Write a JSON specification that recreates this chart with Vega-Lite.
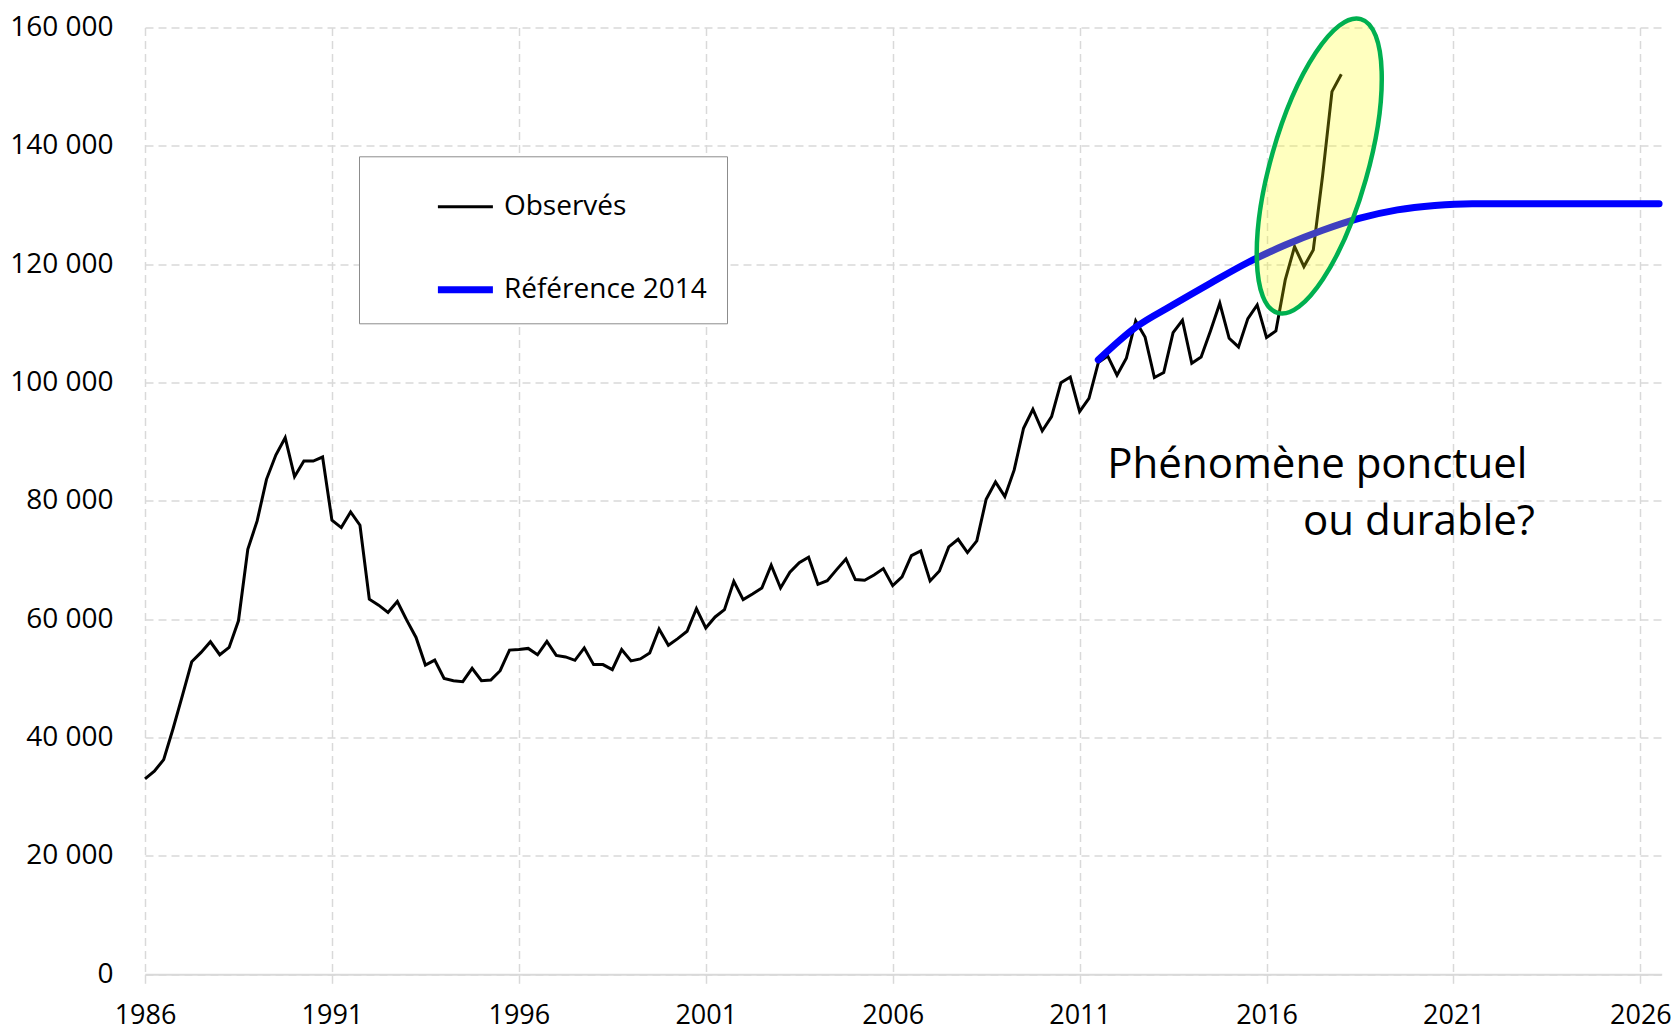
{
  "$schema": "https://vega.github.io/schema/vega-lite/v6.json",
  "width": 1516.7,
  "height": 946.7,
  "autosize": {"type": "none"},
  "padding": {"left": 145, "top": 27.6, "right": 11.3, "bottom": 55.7},
  "background": "#FFFFFF",
  "config": {
    "view": {"stroke": null},
    "locale": {"number": {"decimal": ",", "thousands": " ", "grouping": [3], "currency": ["", " €"]}},
    "axis": {
      "labelFont": "Open Sans",
      "labelFontSize": 27,
      "labelColor": "#000000",
      "gridColor": "#D9D9D9",
      "gridDash": [8, 5],
      "gridWidth": 1.5,
      "title": null
    }
  },
  "datasets": {
    "series": [
      {"t": 1986.0, "value": 33025, "serie": "Observés"},
      {"t": 1986.25, "value": 34317, "serie": "Observés"},
      {"t": 1986.5, "value": 36286, "serie": "Observés"},
      {"t": 1986.75, "value": 41500, "serie": "Observés"},
      {"t": 1987.0, "value": 47100, "serie": "Observés"},
      {"t": 1987.25, "value": 52826, "serie": "Observés"},
      {"t": 1987.5, "value": 54401, "serie": "Observés"},
      {"t": 1987.75, "value": 56201, "serie": "Observés"},
      {"t": 1988.0, "value": 54007, "serie": "Observés"},
      {"t": 1988.25, "value": 55245, "serie": "Observés"},
      {"t": 1988.5, "value": 59746, "serie": "Observés"},
      {"t": 1988.75, "value": 71842, "serie": "Observés"},
      {"t": 1989.0, "value": 76624, "serie": "Observés"},
      {"t": 1989.25, "value": 83657, "serie": "Observés"},
      {"t": 1989.5, "value": 87764, "serie": "Observés"},
      {"t": 1989.75, "value": 90689, "serie": "Observés"},
      {"t": 1990.0, "value": 84107, "serie": "Observés"},
      {"t": 1990.25, "value": 86751, "serie": "Observés"},
      {"t": 1990.5, "value": 86751, "serie": "Observés"},
      {"t": 1990.75, "value": 87426, "serie": "Observés"},
      {"t": 1991.0, "value": 76737, "serie": "Observés"},
      {"t": 1991.25, "value": 75499, "serie": "Observés"},
      {"t": 1991.5, "value": 78143, "serie": "Observés"},
      {"t": 1991.75, "value": 75893, "serie": "Observés"},
      {"t": 1992.0, "value": 63403, "serie": "Observés"},
      {"t": 1992.25, "value": 62391, "serie": "Observés"},
      {"t": 1992.5, "value": 61153, "serie": "Observés"},
      {"t": 1992.75, "value": 63009, "serie": "Observés"},
      {"t": 1993.0, "value": 59859, "serie": "Observés"},
      {"t": 1993.25, "value": 56933, "serie": "Observés"},
      {"t": 1993.5, "value": 52264, "serie": "Observés"},
      {"t": 1993.75, "value": 53108, "serie": "Observés"},
      {"t": 1994.0, "value": 50014, "serie": "Observés"},
      {"t": 1994.25, "value": 49620, "serie": "Observés"},
      {"t": 1994.5, "value": 49451, "serie": "Observés"},
      {"t": 1994.75, "value": 51701, "serie": "Observés"},
      {"t": 1995.0, "value": 49620, "serie": "Observés"},
      {"t": 1995.25, "value": 49733, "serie": "Observés"},
      {"t": 1995.5, "value": 51307, "serie": "Observés"},
      {"t": 1995.75, "value": 54796, "serie": "Observés"},
      {"t": 1996.0, "value": 54908, "serie": "Observés"},
      {"t": 1996.25, "value": 55077, "serie": "Observés"},
      {"t": 1996.5, "value": 54008, "serie": "Observés"},
      {"t": 1996.75, "value": 56258, "serie": "Observés"},
      {"t": 1997.0, "value": 53900, "serie": "Observés"},
      {"t": 1997.25, "value": 53634, "serie": "Observés"},
      {"t": 1997.5, "value": 53070, "serie": "Observés"},
      {"t": 1997.75, "value": 55155, "serie": "Observés"},
      {"t": 1998.0, "value": 52338, "serie": "Observés"},
      {"t": 1998.25, "value": 52338, "serie": "Observés"},
      {"t": 1998.5, "value": 51493, "serie": "Observés"},
      {"t": 1998.75, "value": 54873, "serie": "Observés"},
      {"t": 1999.0, "value": 52958, "serie": "Observés"},
      {"t": 1999.25, "value": 53296, "serie": "Observés"},
      {"t": 1999.5, "value": 54310, "serie": "Observés"},
      {"t": 1999.75, "value": 58366, "serie": "Observés"},
      {"t": 2000.0, "value": 55606, "serie": "Observés"},
      {"t": 2000.25, "value": 56732, "serie": "Observés"},
      {"t": 2000.5, "value": 57972, "serie": "Observés"},
      {"t": 2000.75, "value": 61803, "serie": "Observés"},
      {"t": 2001.0, "value": 58535, "serie": "Observés"},
      {"t": 2001.25, "value": 60394, "serie": "Observés"},
      {"t": 2001.5, "value": 61634, "serie": "Observés"},
      {"t": 2001.75, "value": 66423, "serie": "Observés"},
      {"t": 2002.0, "value": 63324, "serie": "Observés"},
      {"t": 2002.25, "value": 64282, "serie": "Observés"},
      {"t": 2002.5, "value": 65296, "serie": "Observés"},
      {"t": 2002.75, "value": 69127, "serie": "Observés"},
      {"t": 2003.0, "value": 65296, "serie": "Observés"},
      {"t": 2003.25, "value": 67944, "serie": "Observés"},
      {"t": 2003.5, "value": 69578, "serie": "Observés"},
      {"t": 2003.75, "value": 70479, "serie": "Observés"},
      {"t": 2004.0, "value": 65916, "serie": "Observés"},
      {"t": 2004.25, "value": 66535, "serie": "Observés"},
      {"t": 2004.5, "value": 68394, "serie": "Observés"},
      {"t": 2004.75, "value": 70197, "serie": "Observés"},
      {"t": 2005.0, "value": 66704, "serie": "Observés"},
      {"t": 2005.25, "value": 66592, "serie": "Observés"},
      {"t": 2005.5, "value": 67493, "serie": "Observés"},
      {"t": 2005.75, "value": 68564, "serie": "Observés"},
      {"t": 2006.0, "value": 65690, "serie": "Observés"},
      {"t": 2006.25, "value": 67155, "serie": "Observés"},
      {"t": 2006.5, "value": 70761, "serie": "Observés"},
      {"t": 2006.75, "value": 71550, "serie": "Observés"},
      {"t": 2007.0, "value": 66479, "serie": "Observés"},
      {"t": 2007.25, "value": 68169, "serie": "Observés"},
      {"t": 2007.5, "value": 72226, "serie": "Observés"},
      {"t": 2007.75, "value": 73522, "serie": "Observés"},
      {"t": 2008.0, "value": 71268, "serie": "Observés"},
      {"t": 2008.25, "value": 73240, "serie": "Observés"},
      {"t": 2008.5, "value": 80281, "serie": "Observés"},
      {"t": 2008.75, "value": 83211, "serie": "Observés"},
      {"t": 2009.0, "value": 80732, "serie": "Observés"},
      {"t": 2009.25, "value": 85239, "serie": "Observés"},
      {"t": 2009.5, "value": 92282, "serie": "Observés"},
      {"t": 2009.75, "value": 95493, "serie": "Observés"},
      {"t": 2010.0, "value": 91831, "serie": "Observés"},
      {"t": 2010.25, "value": 94253, "serie": "Observés"},
      {"t": 2010.5, "value": 100000, "serie": "Observés"},
      {"t": 2010.75, "value": 100958, "serie": "Observés"},
      {"t": 2011.0, "value": 95098, "serie": "Observés"},
      {"t": 2011.25, "value": 97352, "serie": "Observés"},
      {"t": 2011.5, "value": 103380, "serie": "Observés"},
      {"t": 2011.75, "value": 104507, "serie": "Observés"},
      {"t": 2012.0, "value": 101240, "serie": "Observés"},
      {"t": 2012.25, "value": 104113, "serie": "Observés"},
      {"t": 2012.5, "value": 110423, "serie": "Observés"},
      {"t": 2012.75, "value": 107718, "serie": "Observés"},
      {"t": 2013.0, "value": 100845, "serie": "Observés"},
      {"t": 2013.25, "value": 101690, "serie": "Observés"},
      {"t": 2013.5, "value": 108451, "serie": "Observés"},
      {"t": 2013.75, "value": 110535, "serie": "Observés"},
      {"t": 2014.0, "value": 103268, "serie": "Observés"},
      {"t": 2014.25, "value": 104338, "serie": "Observés"},
      {"t": 2014.5, "value": 108733, "serie": "Observés"},
      {"t": 2014.75, "value": 113409, "serie": "Observés"},
      {"t": 2015.0, "value": 107493, "serie": "Observés"},
      {"t": 2015.25, "value": 106028, "serie": "Observés"},
      {"t": 2015.5, "value": 110817, "serie": "Observés"},
      {"t": 2015.75, "value": 113127, "serie": "Observés"},
      {"t": 2016.0, "value": 107606, "serie": "Observés"},
      {"t": 2016.25, "value": 108733, "serie": "Observés"},
      {"t": 2016.5, "value": 117352, "serie": "Observés"},
      {"t": 2016.75, "value": 122986, "serie": "Observés"},
      {"t": 2017.0, "value": 119606, "serie": "Observés"},
      {"t": 2017.25, "value": 122423, "serie": "Observés"},
      {"t": 2017.5, "value": 135000, "serie": "Observés"},
      {"t": 2017.75, "value": 149183, "serie": "Observés"},
      {"t": 2018.0, "value": 152113, "serie": "Observés"},
      {"t": 2011.5, "value": 103850, "serie": "Référence 2014"},
      {"t": 2012.5, "value": 109350, "serie": "Référence 2014"},
      {"t": 2013.5, "value": 113150, "serie": "Référence 2014"},
      {"t": 2014.5, "value": 116800, "serie": "Référence 2014"},
      {"t": 2015.5, "value": 120300, "serie": "Référence 2014"},
      {"t": 2016.5, "value": 123250, "serie": "Référence 2014"},
      {"t": 2017.5, "value": 125750, "serie": "Référence 2014"},
      {"t": 2018.5, "value": 127800, "serie": "Référence 2014"},
      {"t": 2019.5, "value": 129200, "serie": "Référence 2014"},
      {"t": 2020.5, "value": 129950, "serie": "Référence 2014"},
      {"t": 2021.5, "value": 130250, "serie": "Référence 2014"},
      {"t": 2022.5, "value": 130250, "serie": "Référence 2014"},
      {"t": 2023.5, "value": 130250, "serie": "Référence 2014"},
      {"t": 2024.5, "value": 130250, "serie": "Référence 2014"},
      {"t": 2025.5, "value": 130250, "serie": "Référence 2014"},
      {"t": 2026.5, "value": 130250, "serie": "Référence 2014"}
    ],
    "highlight": [
      {"t": 2017.41, "value": 136610}
    ],
    "notes": [
      {"t": 2011.74, "value": 83885, "label": "Phénomène ponctuel", "line": 1},
      {"t": 2023.18, "value": 74200, "label": "ou durable?", "line": 2}
    ]
  },
  "encoding": {
    "x": {
      "field": "t",
      "type": "quantitative",
      "scale": {"domain": [1986, 2026.57], "nice": false, "zero": false},
      "axis": {
        "values": [1986, 1991, 1996, 2001, 2006, 2011, 2016, 2021, 2026],
        "format": "d",
        "labelFlush": false,
        "labelOverlap": false,
        "domain": true,
        "domainColor": "#D9D9D9",
        "domainWidth": 2,
        "ticks": true,
        "tickSize": 9,
        "tickColor": "#D9D9D9",
        "tickWidth": 1.5,
        "labelPadding": 19,
        "labelBaseline": "top",
        "grid": true
      }
    },
    "y": {
      "field": "value",
      "type": "quantitative",
      "scale": {"domain": [0, 160000], "nice": false, "zero": true},
      "axis": {
        "values": [0, 20000, 40000, 60000, 80000, 100000, 120000, 140000, 160000],
        "format": ",d",
        "domain": false,
        "ticks": false,
        "labelPadding": 32,
        "labelFontSize": 28,
        "labelOverlap": false,
        "grid": true
      }
    }
  },
  "layer": [
    {
      "data": {"name": "series"},
      "transform": [{"filter": "datum.serie === 'Observés'"}],
      "mark": {"type": "line", "strokeWidth": 3, "strokeJoin": "miter", "strokeCap": "butt"},
      "encoding": {
        "color": {
          "field": "serie",
          "type": "nominal",
          "scale": {"domain": ["Observés", "Référence 2014"], "range": ["#000000", "#0000FF"]},
          "legend": {
            "title": null,
            "orient": "none",
            "legendX": 214,
            "legendY": 128.7,
            "direction": "vertical",
            "fillColor": "#FFFFFF",
            "strokeColor": "#8C8C8C",
            "padding": 19.4,
            "symbolType": "stroke",
            "symbolSize": 3025,
            "symbolOffset": 56,
            "labelOffset": 7.5,
            "rowPadding": 38.1,
            "labelFont": "Open Sans",
            "labelFontSize": 28,
            "labelColor": "#000000",
            "labelLimit": 0,
            "encoding": {
              "symbols": {
                "strokeWidth": {"value": {"expr": "(datum.value === 'Observés' ? 3 : 7)"}}
              }
            }
          }
        }
      }
    },
    {
      "data": {"name": "series"},
      "transform": [{"filter": "datum.serie === 'Référence 2014'"}],
      "mark": {"type": "line", "interpolate": "monotone", "strokeWidth": 7, "strokeCap": "round"},
      "encoding": {
        "color": {"field": "serie", "type": "nominal"}
      }
    },
    {
      "data": {"name": "highlight"},
      "mark": {
        "type": "point",
        "shape": "M0,-1C0.1754,-1,0.3176,-0.5523,0.3176,0C0.3176,0.5523,0.1754,1,0,1C-0.1754,1,-0.3176,0.5523,-0.3176,0C-0.3176,-0.5523,-0.1754,-1,0,-1Z",
        "size": 93269,
        "angle": 15.8,
        "filled": true,
        "fill": "#FFFF00",
        "fillOpacity": 0.25,
        "stroke": "#00B050",
        "strokeWidth": 4.5,
        "strokeOpacity": 1,
        "opacity": 1
      }
    },
    {
      "data": {"name": "notes"},
      "transform": [{"filter": "datum.line === 1"}],
      "mark": {"type": "text", "font": "Open Sans", "fontSize": 42, "align": "left", "baseline": "alphabetic", "color": "#000000"},
      "encoding": {"text": {"field": "label", "type": "nominal"}}
    },
    {
      "data": {"name": "notes"},
      "transform": [{"filter": "datum.line === 2"}],
      "mark": {"type": "text", "font": "Open Sans", "fontSize": 42, "align": "right", "baseline": "alphabetic", "color": "#000000"},
      "encoding": {"text": {"field": "label", "type": "nominal"}}
    }
  ]
}
